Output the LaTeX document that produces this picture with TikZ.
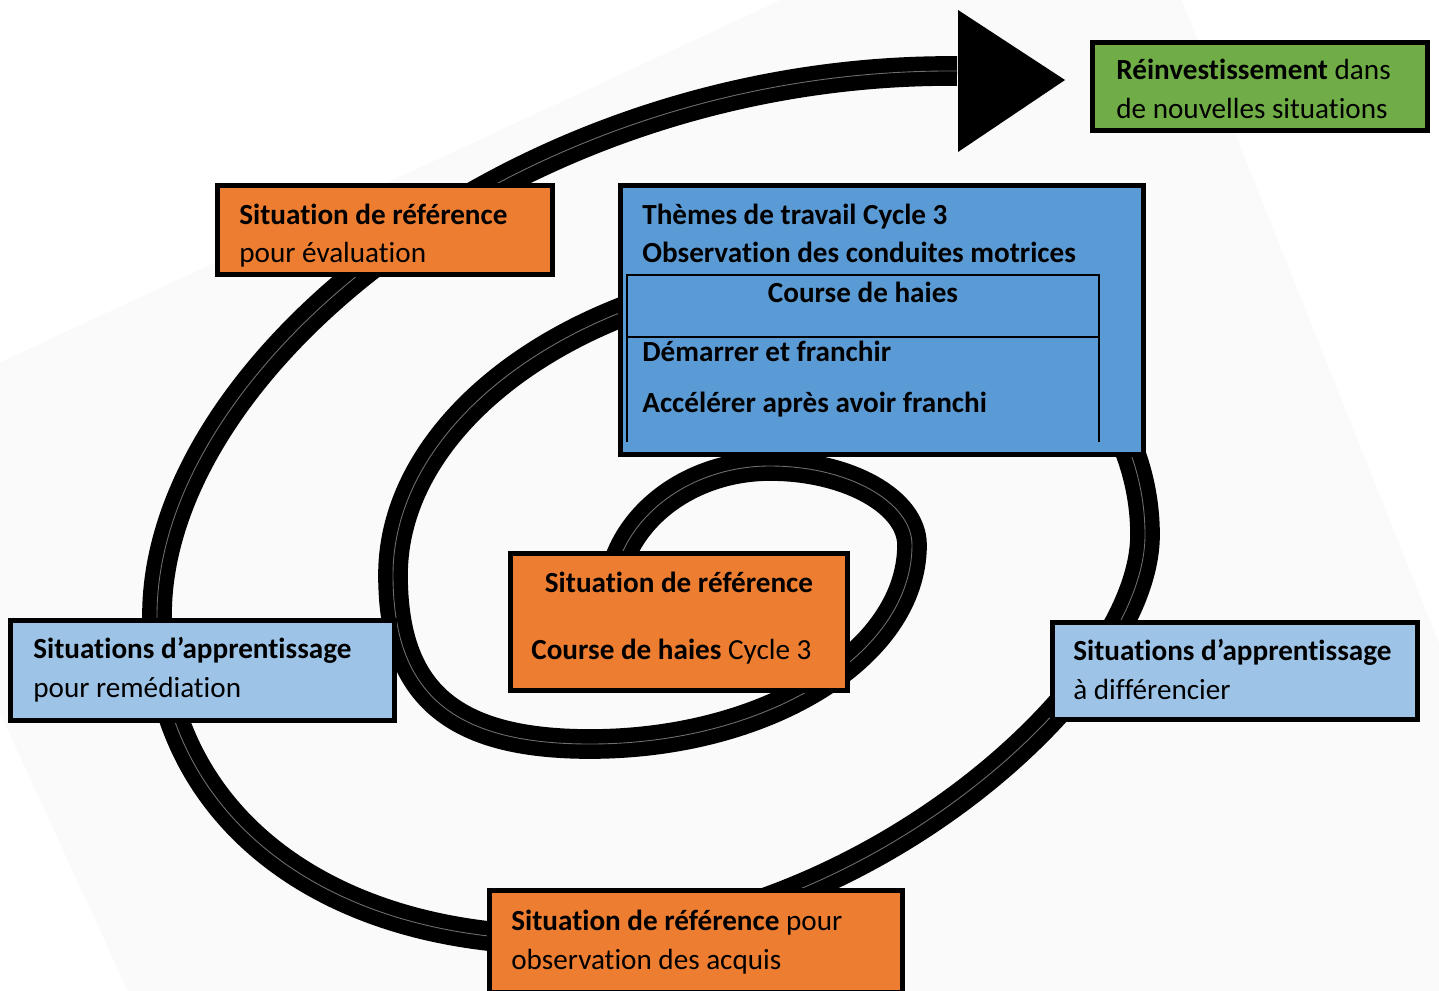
\documentclass[tikz,border=0pt]{standalone}
\usepackage{fontspec}
\setmainfont{Carlito}[Ligatures=NoCommon]
\usetikzlibrary{positioning}

\definecolor{orangeref}{HTML}{ED7D31}
\definecolor{bleufonce}{HTML}{5B9BD5}
\definecolor{bleuclair}{HTML}{9DC3E6}
\definecolor{vert}{HTML}{70AD47}
\definecolor{fond}{HTML}{FAFAFA}
\definecolor{reflet}{HTML}{6E6E6E}

\begin{document}
\begin{tikzpicture}[x=0.02cm, y=-0.02cm,
  boite/.style={draw=black, line width=2.8pt, inner sep=0pt},
  ecrit/.style={font=\fontsize{16.6}{22}\selectfont, inner sep=0pt},
  ligne/.style={ecrit, anchor=base west},
  spirale/.style={line width=8.2pt, double=reflet, double distance=0.5pt, line cap=butt, line join=round},
  filet/.style={line width=1.1pt}]

\useasboundingbox (0,0) rectangle (1439,990);
\clip (0,0) rectangle (1439,990);

% Page scannee
\fill[fond] (1119,-157) -- (-133,424) -- (327,1424) -- (1719,1343) -- cycle;

% Spirale
\draw[spirale] (612,600)
  .. controls (612,526) and (683,466) .. (770,466)
  .. controls (848,466) and (912,502) .. (912,545)
  .. controls (912,654) and (767,744) .. (590,744)
  .. controls (452,744) and (393,693) .. (393,575)
  .. controls (393,411) and (600,270) .. (850,270)
  .. controls (1012,270) and (1145,389) .. (1145,535)
  .. controls (1145,685) and (860,940) .. (560,940)
  .. controls (318,940) and (157,810) .. (157,615)
  .. controls (157,365) and (520,68) .. (957,71);

% Fleche
\fill (958,10) -- (958,152) -- (1065,80) -- cycle;

% Reinvestissement
\node[boite, fill=vert, minimum width=6.7cm, minimum height=1.76cm] (reinvest) at (1260,86.5) {};
\node[ligne] (reinvest1) at (1116,80) {\textbf{Réinvestissement} dans};
\node[ligne] (reinvest2) at (1116,118) {de nouvelles situations};

% Situation pour evaluation
\node[boite, fill=orangeref, minimum width=6.7cm, minimum height=1.78cm] (evaluation) at (385,230) {};
\node[ligne] (evaluation1) at (239,224) {\textbf{Situation de référence}};
\node[ligne] (evaluation2) at (239,262) {pour évaluation};

% Themes de travail
\node[boite, fill=bleufonce, minimum width=10.46cm, minimum height=5.38cm] (themes) at (882,320) {};
\draw[filet] (627,442) -- (627,275) -- (1099,275) -- (1099,442);
\draw[filet] (627,337) -- (1099,337);
\node[ligne] (themes1) at (642,224) {\textbf{Thèmes de travail Cycle 3}};
\node[ligne] (themes2) at (642,262) {\textbf{Observation des conduites motrices}};
\node[ecrit, anchor=base] (haies) at (863,302) {\textbf{Course de haies}};
\node[ligne] (demarrer) at (642,361) {\textbf{Démarrer et franchir}};
\node[ligne] (accelerer) at (642,412) {\textbf{Accélérer après avoir franchi}};

% Situation de reference centrale
\node[boite, fill=orangeref, minimum width=6.74cm, minimum height=2.74cm] (reference) at (679,622) {};
\node[ecrit, anchor=base] (reference1) at (679,592) {\textbf{Situation de référence}};
\node[ligne] (reference2) at (531,659) {\textbf{Course de haies} Cycle 3};

% Remediation
\node[boite, fill=bleuclair, minimum width=7.68cm, minimum height=2cm] (remediation) at (202.5,670.5) {};
\node[ligne] (remediation1) at (33,658) {\textbf{Situations d’apprentissage}};
\node[ligne] (remediation2) at (33,697) {pour remédiation};

% Differencier
\node[boite, fill=bleuclair, minimum width=7.3cm, minimum height=1.94cm] (differencier) at (1235,671) {};
\node[ligne] (differencier1) at (1073,660) {\textbf{Situations d’apprentissage}};
\node[ligne] (differencier2) at (1073,699) {à différencier};

% Observation des acquis
\node[boite, fill=orangeref, minimum width=8.26cm, minimum height=2.04cm] (acquis) at (696,941.5) {};
\node[ligne] (acquis1) at (511,930) {\textbf{Situation de référence} pour};
\node[ligne] (acquis2) at (511,969) {observation des acquis};

\end{tikzpicture}
\end{document}
